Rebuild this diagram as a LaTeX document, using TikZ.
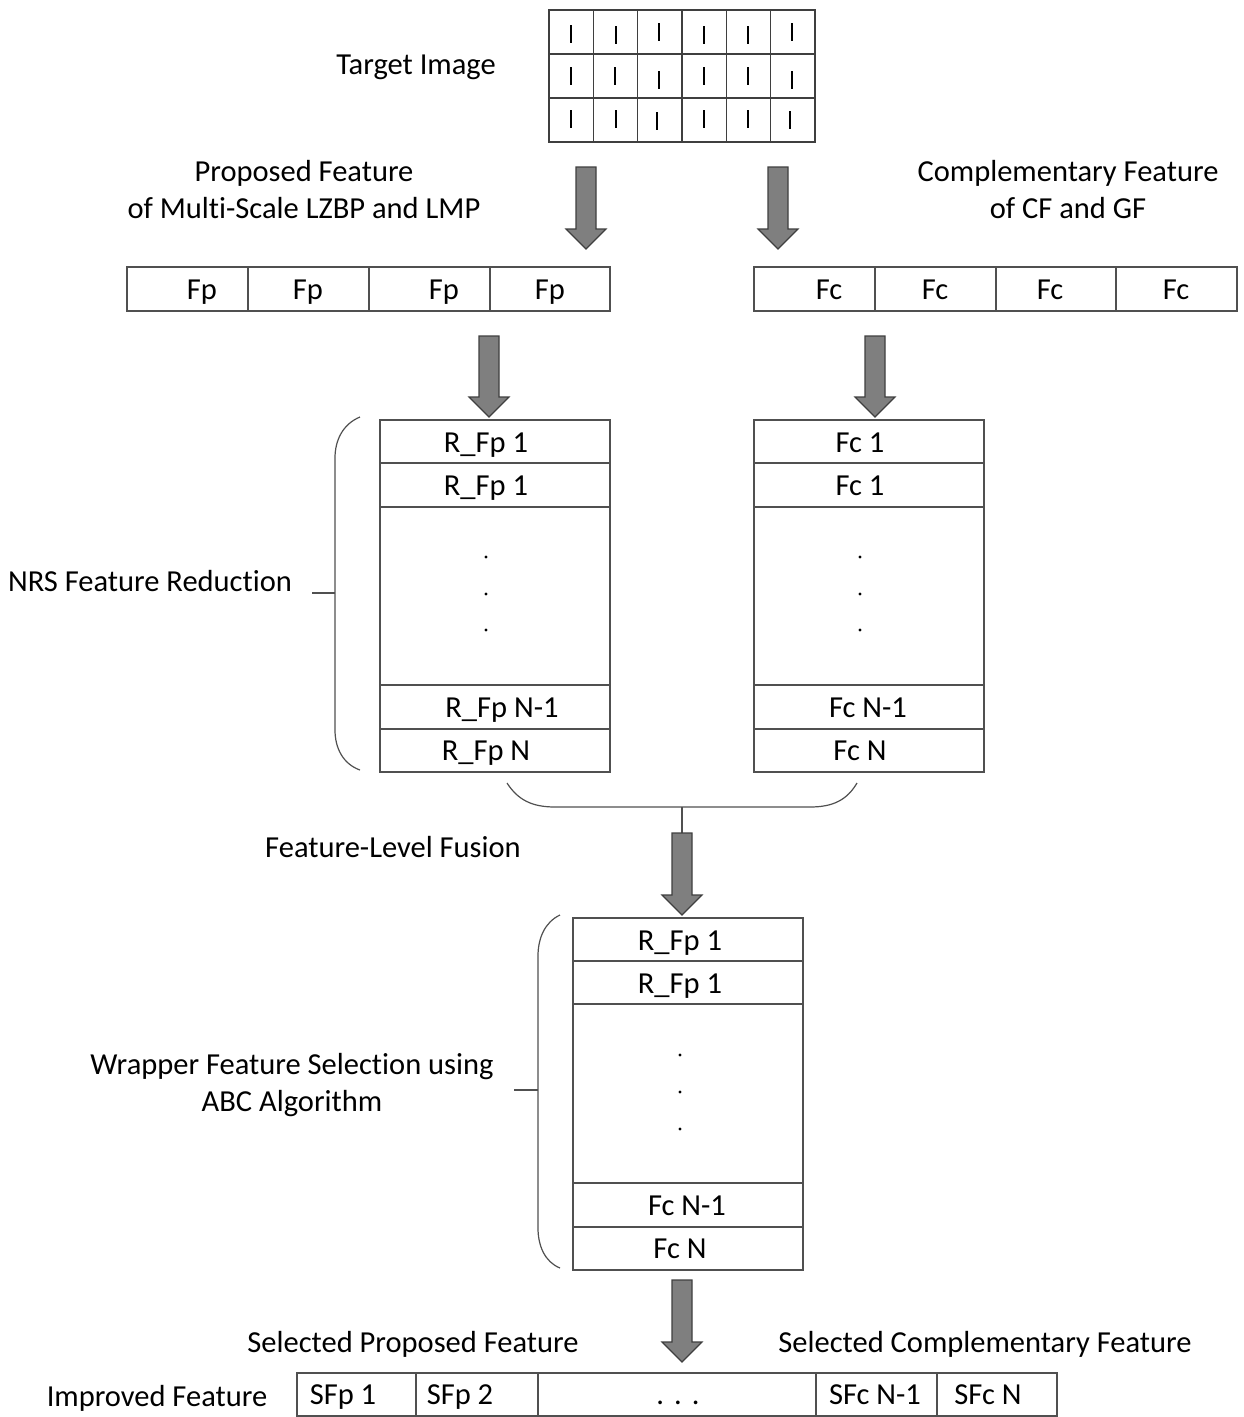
\documentclass[tikz,border=0pt]{standalone}
\usepackage{fontspec}
\setmainfont[RawFeature={-liga}]{Carlito}
\definecolor{edge}{HTML}{505050}
\definecolor{arrowfill}{HTML}{7F7F7F}
\definecolor{arrowline}{HTML}{3F3F3F}
\begin{document}
\begin{tikzpicture}[x=1pt,y=-1pt,
  every node/.style={font=\fontsize{30.5}{36}\selectfont, inner sep=0pt, outer sep=0pt,
                     text height=19.5pt, text depth=0pt},
  cell/.style={draw=edge, line width=1.3pt, minimum height=44pt, text height=, text depth=},
  gridcell/.style={draw=arrowline, line width=1.4pt, minimum width=44.33pt, minimum height=44pt,
                   text height=, text depth=},
  bar/.style={line width=2.6pt, black},
  barrow/.style={fill=arrowfill, draw=arrowline, line width=1.2pt, line join=miter},
  brace/.style={draw=edge, line width=1.2pt}]

\useasboundingbox (0,0) rectangle (1244,1417);

% block arrow: x centre, top of shaft, tip
\newcommand{\blockarrow}[3]{%
  \draw[barrow] (#1-10,#2) -- (#1+10,#2) -- (#1+10,#3-20) -- (#1+20,#3-20)
    -- (#1,#3) -- (#1-20,#3-20) -- (#1-10,#3-20) -- cycle;}

% ---------- target image grid ----------
\foreach \r in {1,2,3}{
  \foreach \c in {1,...,6}{
    \node[gridcell] (g\r\c) at ({549+44.33*(\c-0.5)},{10+44*(\r-0.5)}) {};
  }
}
\foreach \x/\y in {571/25,616/26,659/23,704/26,748/26,792/23,
                   571/67,615/67,659/71,704/67,748/67,792/71,
                   571/110,616/110,657/112,704/110,748/110,790/111}{
  \draw[bar] (\x,\y) -- (\x,\y+18);
}
\node (timg) at (416,65) {Target Image};

% ---------- feature labels ----------
\node (plab1) at (304,172) {Proposed Feature};
\node (plab2) at (304,209) {of Multi-Scale LZBP and LMP};
\node (clab1) at (1068,172) {Complementary Feature};
\node (clab2) at (1068,209) {of CF and GF};

\blockarrow{586}{167}{249}
\blockarrow{778}{167}{249}

% ---------- Fp row ----------
\node[cell, minimum width=121pt] (fp1) at (187.5,289) {};
\node[cell, minimum width=121pt] (fp2) at (308.5,289) {};
\node[cell, minimum width=121pt] (fp3) at (429.5,289) {};
\node[cell, minimum width=120pt] (fp4) at (550,289) {};
\node (fpt1) at (202,290) {Fp};
\node (fpt2) at (308,290) {Fp};
\node (fpt3) at (444,290) {Fp};
\node (fpt4) at (550,290) {Fp};

% ---------- Fc row ----------
\node[cell, minimum width=121pt] (fc1) at (814.5,289) {};
\node[cell, minimum width=121pt] (fc2) at (935.5,289) {};
\node[cell, minimum width=120pt] (fc3) at (1056,289) {};
\node[cell, minimum width=121pt] (fc4) at (1176.5,289) {};
\node (fct1) at (829,290) {Fc};
\node (fct2) at (935,290) {Fc};
\node (fct3) at (1050,290) {Fc};
\node (fct4) at (1176,290) {Fc};

\blockarrow{489}{336}{417}
\blockarrow{875}{336}{417}

% ---------- reduced proposed features ----------
\node[cell, minimum width=230pt, minimum height=43pt] (ra) at (495,441.5) {};
\node[cell, minimum width=230pt, minimum height=44pt] (rb) at (495,485) {};
\node[cell, minimum width=230pt, minimum height=178pt] (rc) at (495,596) {};
\node[cell, minimum width=230pt, minimum height=44pt] (rd) at (495,707) {};
\node[cell, minimum width=230pt, minimum height=43pt] (re) at (495,750.5) {};
\node (rat) at (486,443) {R\_Fp 1};
\node (rbt) at (486,486) {R\_Fp 1};
\node (rdt) at (502,708) {R\_Fp N-1};
\node (ret) at (486,751) {R\_Fp N};
\foreach \y in {557,594,630}{\fill (486,\y) circle (1.6pt);}

% ---------- reduced complementary features ----------
\node[cell, minimum width=230pt, minimum height=43pt] (ca) at (869,441.5) {};
\node[cell, minimum width=230pt, minimum height=44pt] (cb) at (869,485) {};
\node[cell, minimum width=230pt, minimum height=178pt] (cc) at (869,596) {};
\node[cell, minimum width=230pt, minimum height=44pt] (cd) at (869,707) {};
\node[cell, minimum width=230pt, minimum height=43pt] (ce) at (869,750.5) {};
\node (cat) at (860,443) {Fc 1};
\node (cbt) at (860,486) {Fc 1};
\node (cdt) at (868,708) {Fc N-1};
\node (cet) at (860,751) {Fc N};
\foreach \y in {557,594,630}{\fill (860,\y) circle (1.6pt);}

% NRS brace
\draw[brace] (360,417) .. controls (343,424) and (335,440) .. (335,458)
  -- (335,730) .. controls (335,748) and (343,764) .. (360,770);
\coordinate (nrstick) at (312,593);
\draw[brace] (nrstick) -- (335,593);
\node (nrs) at (150,582) {NRS Feature Reduction};

% fusion brace
\draw[brace] (507,783) .. controls (518,800) and (532,807) .. (555,807)
  -- (810,807) .. controls (833,807) and (847,800) .. (857,783);
\coordinate (fustop) at (682,807);
\coordinate (fusarrow) at (682,833);
\draw[brace] (fustop) -- (fusarrow);
\node (fus) at (393,848) {Feature-Level Fusion};

\blockarrow{682}{833}{915}

% ---------- fused features ----------
\node[cell, minimum width=230pt, minimum height=43pt] (fa) at (688,939.5) {};
\node[cell, minimum width=230pt, minimum height=43pt] (fb) at (688,982.5) {};
\node[cell, minimum width=230pt, minimum height=179pt] (fcc) at (688,1093.5) {};
\node[cell, minimum width=230pt, minimum height=44pt] (fd) at (688,1205) {};
\node[cell, minimum width=230pt, minimum height=43pt] (fe) at (688,1248.5) {};
\node (fat) at (680,941) {R\_Fp 1};
\node (fbt) at (680,984) {R\_Fp 1};
\node (fdt) at (687,1206) {Fc N-1};
\node (fet) at (680,1249) {Fc N};
\foreach \y in {1055,1092,1129}{\fill (680,\y) circle (1.6pt);}

% wrapper brace
\draw[brace] (560,915) .. controls (545,922) and (538,938) .. (538,956)
  -- (538,1228) .. controls (538,1246) and (545,1262) .. (560,1268);
\coordinate (wrtick) at (514,1090);
\draw[brace] (wrtick) -- (538,1090);
\node (wr1) at (292,1065) {Wrapper Feature Selection using};
\node (wr2) at (292,1102) {ABC Algorithm};

\blockarrow{682}{1280}{1362}

% ---------- improved feature ----------
\node (spl) at (413,1343) {Selected Proposed Feature};
\node (scl) at (985,1343) {Selected Complementary Feature};
\node (imp) at (157,1397) {Improved Feature};
\node[cell, minimum width=119pt, minimum height=43pt] (s1) at (356.5,1394.5) {};
\node[cell, minimum width=122pt, minimum height=43pt] (s2) at (477,1394.5) {};
\node[cell, minimum width=278pt, minimum height=43pt] (s3) at (677,1394.5) {};
\node[cell, minimum width=121pt, minimum height=43pt] (s4) at (876.5,1394.5) {};
\node[cell, minimum width=120pt, minimum height=43pt] (s5) at (997,1394.5) {};
\node (s1t) at (343,1395) {SFp 1};
\node (s2t) at (460,1395) {SFp 2};
\node (s3t) at (678,1395) {.\,\,.\,\,.};
\node (s4t) at (875,1395) {SFc N-1};
\node (s5t) at (988,1395) {SFc N};
\end{tikzpicture}
\end{document}
